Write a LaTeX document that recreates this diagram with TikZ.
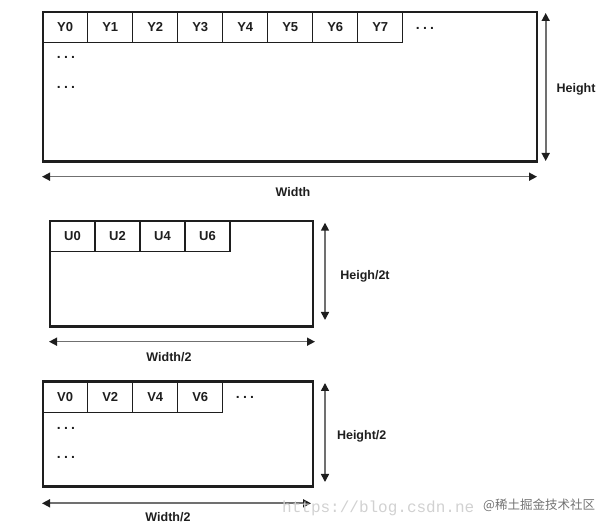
\documentclass[tikz,border=0pt]{standalone}
\usepackage{fontspec}
\setmainfont{Liberation Sans}
\newfontfamily\cjkfont{Noto Sans CJK SC}
\newfontfamily\wmfont{Liberation Mono}
\usetikzlibrary{arrows.meta,calc}
\definecolor{ink}{HTML}{1E1E1E}
\definecolor{arrowgray}{HTML}{707070}
\tikzset{
  plane/.style={draw=ink, line width=2.4pt, minimum width=#1, anchor=north west, inner sep=0pt, outer sep=0pt},
  cell/.style={draw=ink, line width=1.2pt, minimum width=45pt, minimum height=30.5pt, anchor=north west, inner sep=0pt, outer sep=0pt, font=\bfseries\fontsize{13}{15}\selectfont, text=ink},
  lbl/.style={font=\bfseries\fontsize{12.5}{15}\selectfont, text=ink, inner sep=0pt},
  dots/.style={font=\bfseries\fontsize{14}{15}\selectfont, text=ink, inner sep=0pt},
  dim/.style={draw=arrowgray, line width=1.6pt, {Triangle[length=8pt,width=8pt,color=ink]}-{Triangle[length=8pt,width=8pt,color=ink]}},
}
\newcommand{\tdots}{.\hspace{3.2pt}.\hspace{3.2pt}.}
\begin{document}
\begin{tikzpicture}[x=1pt,y=-1pt]
\useasboundingbox (0,0) rectangle (614,529);
% ---------- Y plane ----------
\node[plane=494pt, minimum height=149.7pt] (Y) at (42.7,12) {};
\foreach \i/\t in {0/Y0,1/Y1,2/Y2,3/Y3,4/Y4,5/Y5,6/Y6,7/Y7}
  \node[cell] (y\i) at (42.7+45*\i,12) {\t};
\node[dots] (yd0) at (425,28) {\tdots};
\node[dots] (yd1) at (66,57) {\tdots};
\node[dots] (yd2) at (66,87) {\tdots};
\coordinate (yh1) at (545.7,13);
\coordinate (yh2) at (545.7,161);
\draw[dim] (yh1) -- (yh2);
\node[lbl] (yhl) at (576,89) {Height};
\coordinate (yw1) at (42,176.7);
\coordinate (yw2) at (537,176.7);
\draw[dim] (yw1) -- (yw2);
\node[lbl] (ywl) at (293,192) {Width};
% ---------- U plane ----------
\node[plane=262.7pt, minimum height=105.7pt] (U) at (50,221) {};
\foreach \i/\t in {0/U0,1/U2,2/U4,3/U6}
  \node[cell, minimum height=30.7pt] (u\i) at (50+45*\i,221) {\t};
\coordinate (uh1) at (325,222.7);
\coordinate (uh2) at (325,320);
\draw[dim] (uh1) -- (uh2);
\node[lbl] (uhl) at (365,276.7) {Heigh/2t};
\coordinate (uw1) at (49,341.7);
\coordinate (uw2) at (315,341.7);
\draw[dim] (uw1) -- (uw2);
\node[lbl] (uwl) at (169,356.7) {Width/2};
% ---------- V plane ----------
\node[plane=270pt, minimum height=105pt] (V) at (42.7,381.7) {};
\foreach \i/\t in {0/V0,1/V2,2/V4,3/V6}
  \node[cell, minimum height=31pt] (v\i) at (42.7+45*\i,381.7) {\t};
\node[dots] (vd0) at (245,397.5) {\tdots};
\node[dots] (vd1) at (66,428) {\tdots};
\node[dots] (vd2) at (66,457.5) {\tdots};
\coordinate (vh1) at (325,383);
\coordinate (vh2) at (325,482);
\draw[dim] (vh1) -- (vh2);
\node[lbl] (vhl) at (361.7,436) {Height/2};
\coordinate (vw1) at (42,503.3);
\coordinate (vw2) at (311,503.3);
\draw[dim] (vw1) -- (vw2);
\node[lbl] (vwl) at (168,516.7) {Width/2};
% ---------- watermark ----------
\node[font=\wmfont\fontsize{16}{18}\selectfont, text=black!18, anchor=west, inner sep=0pt] (wm1) at (282,508) {https://blog.csdn.ne};
\node[font=\cjkfont\fontsize{12.5}{14}\selectfont, text=black!55, anchor=west, inner sep=1pt, fill=white, fill opacity=0.6, text opacity=1] (wm2) at (482,505) {@稀土掘金技术社区};
\end{tikzpicture}
\end{document}
